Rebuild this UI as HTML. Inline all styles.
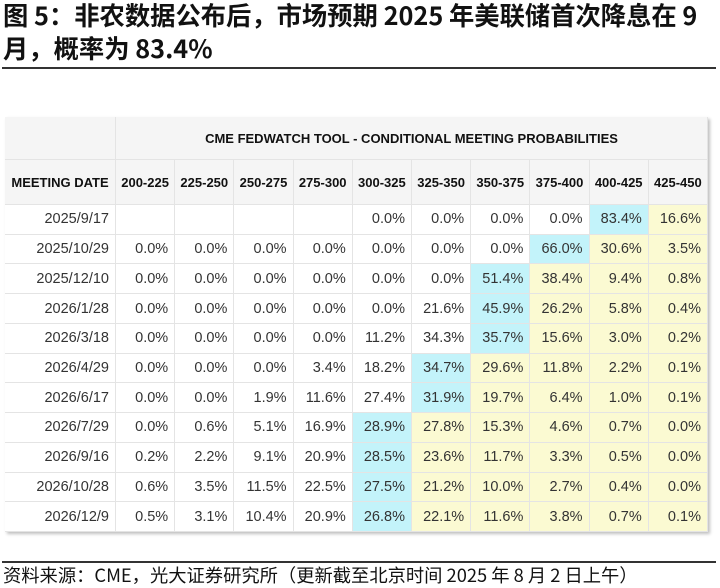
<!DOCTYPE html>
<html><head><meta charset="utf-8">
<style>
body{margin:0;width:720px;height:588px;background:#fff;position:relative;overflow:hidden;font-family:"Liberation Sans","Noto Sans CJK SC",sans-serif}
.title{position:absolute;left:3px;top:-1px;font:bold 25.3px/33px "Noto Sans CJK SC",sans-serif;color:#111;width:718px;white-space:nowrap}
.rule{position:absolute;left:2px;width:714px;height:2px;background:#333}
.src{position:absolute;left:3px;top:563px;font:18.3px/24px "Noto Sans CJK SC",sans-serif;color:#111;white-space:nowrap}
#tbl{position:absolute;left:5px;top:117px;width:703px;height:415px;box-shadow:2px 2px 3px rgba(0,0,0,0.25);background:#fff}
.c{position:absolute;box-sizing:border-box;border-right:1px solid #e4e4e4;border-bottom:1px solid #e4e4e4;font-size:14.5px;color:#333;display:flex;align-items:center;justify-content:flex-end;padding-right:6px;white-space:nowrap}
.h{background:#f5f5f5;font-weight:bold;font-size:13px;color:#111;justify-content:center;padding:0}
</style></head><body>
<div class="title">图 5：非农数据公布后，市场预期 2025 年美联储首次降息在 9<br>月，概率为 83.4%</div>
<div class="rule" style="top:67px"></div>
<div id="tbl"></div>
<div class="rule" style="top:561px"></div>
<div class="src">资料来源：CME，光大证券研究所（更新截至北京时间 2025 年 8 月 2 日上午）</div>
<script>
const ranges=["200-225","225-250","250-275","275-300","300-325","325-350","350-375","375-400","400-425","425-450"];
const dates=["2025/9/17","2025/10/29","2025/12/10","2026/1/28","2026/3/18","2026/4/29","2026/6/17","2026/7/29","2026/9/16","2026/10/28","2026/12/9"];
const r0=[null,null,null,null,0,0,0,0,83.4,16.6];
const r1=[0,0,0,0,0,0,0,66.0,30.6,3.5];
const r2=[0,0,0,0,0,0,51.4,38.4,9.4,0.8];
const r3=[0,0,0,0,0,21.6,45.9,26.2,5.8,0.4];
const r4=[0,0,0,0,11.2,34.3,35.7,15.6,3.0,0.2];
const r5=[0,0,0,3.4,18.2,34.7,29.6,11.8,2.2,0.1];
const r6=[0,0,1.9,11.6,27.4,31.9,19.7,6.4,1.0,0.1];
const r7=[0,0.6,5.1,16.9,28.9,27.8,15.3,4.6,0.7,0.0];
const r8=[0.2,2.2,9.1,20.9,28.5,23.6,11.7,3.3,0.5,0.0];
const r9=[0.6,3.5,11.5,22.5,27.5,21.2,10.0,2.7,0.4,0.0];
const r10=[0.5,3.1,10.4,20.9,26.8,22.1,11.6,3.8,0.7,0.1];
const rows=[r0,r1,r2,r3,r4,r5,r6,r7,r8,r9,r10];
const T=document.getElementById('tbl');
const firstW=111, colW=(703-111)/10, h1=43, h2=45, rh=(415-h1-h2)/11;
function cell(x,y,w,h,txt,cls,bg){const d=document.createElement('div');d.className='c '+(cls||'');d.style.left=x+'px';d.style.top=y+'px';d.style.width=w+'px';d.style.height=h+'px';if(bg)d.style.background=bg;d.textContent=txt;T.appendChild(d);return d;}
let e=cell(0,0,firstW,h1,'','h');


e=cell(firstW,0,703-firstW,h1,'CME FEDWATCH TOOL - CONDITIONAL MEETING PROBABILITIES','h');


e=cell(0,h1,firstW,h2,'MEETING DATE','h');


ranges.forEach((r,i)=>{const d=cell(firstW+i*colW,h1,colW,h2,r,'h');

});
rows.forEach((row,ri)=>{
 const y=h1+h2+ri*rh;
 const dc=cell(0,y,firstW,rh,dates[ri]);
 
 
 let mx=-1,mi=-1;row.forEach((v,i)=>{if(v!==null&&v>mx){mx=v;mi=i;}});
 row.forEach((v,i)=>{
  let bg=i===mi?'#c3f3fa':(i>mi?'#fbfad2':'#fff');
  const c=cell(firstW+i*colW,y,colW,rh,v===null?'':v.toFixed(1)+'%','',bg);
  
  
 });
});
</script>
</body></html>
